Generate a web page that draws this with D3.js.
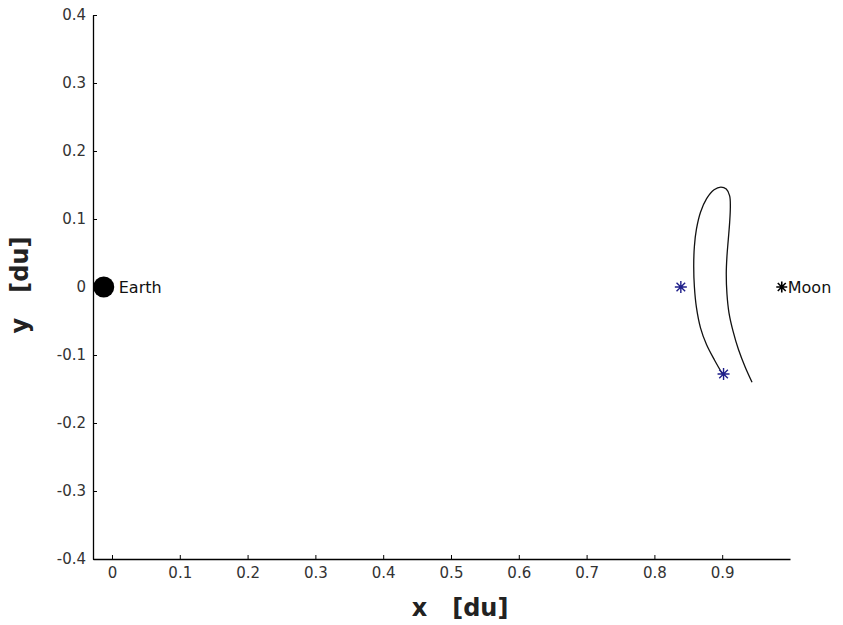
<!DOCTYPE html>
<html>
<head>
<meta charset="utf-8">
<script src="https://cdn.jsdelivr.net/npm/d3@7"></script>
<style>
  body { margin: 0; background: #fff; }
  svg { display: block; }
</style>
</head>
<body>
<div id="chart"></div>
<script>
// 軸刻度
const xTicks = [0, 0.1, 0.2, 0.3, 0.4, 0.5, 0.6, 0.7, 0.8, 0.9];
const yTicks = [-0.4, -0.3, -0.2, -0.1, 0, 0.1, 0.2, 0.3, 0.4];

// 軌道 (x, y) [du]
const orbitX = [0.901, 0.889, 0.877, 0.868, 0.862, 0.859, 0.858, 0.859, 0.862, 0.868, 0.877, 0.888, 0.898, 0.906, 0.911, 0.912, 0.911, 0.909, 0.907, 0.906, 0.907, 0.910, 0.916, 0.924, 0.934, 0.944];
const orbitY = [-0.129, -0.108, -0.085, -0.060, -0.030, 0.000, 0.030, 0.060, 0.085, 0.110, 0.130, 0.143, 0.147, 0.144, 0.134, 0.118, 0.095, 0.070, 0.045, 0.020, -0.010, -0.038, -0.065, -0.092, -0.118, -0.140];

// 特殊點
const bodies = [
  { name: "Earth", x: -0.01215, y: 0 },
  { name: "Moon", x: 0.98785, y: 0 }
];
const blueStars = [
  { x: 0.839, y: 0 },      // L1
  { x: 0.902, y: -0.128 }  // 起點
];

const width = 843, height = 625;
const svg = d3.select("#chart").append("svg")
  .attr("width", width)
  .attr("height", height);

const x = d3.scaleLinear().domain([-0.028, 1.0]).range([93, 790]);
const y = d3.scaleLinear().domain([-0.4, 0.4]).range([559, 15]);

const fmt = d => (Math.abs(d) < 1e-9 ? "0" : d.toFixed(1));

// x 軸
const gx = svg.append("g")
  .attr("transform", `translate(0,${y(-0.4)})`)
  .call(d3.axisBottom(x).tickValues(xTicks).tickFormat(fmt).tickSizeInner(-4).tickSizeOuter(0).tickPadding(8));

// y 軸
const gy = svg.append("g")
  .attr("transform", `translate(${x(-0.028)},0)`)
  .call(d3.axisLeft(y).tickValues(yTicks).tickFormat(fmt).tickSizeInner(-4).tickSizeOuter(0).tickPadding(7));

[gx, gy].forEach(g => {
  g.select(".domain").attr("stroke", "#000").attr("stroke-width", 1.3);
  g.selectAll(".tick line").attr("stroke", "#000");
  g.selectAll(".tick text")
    .attr("font-family", "DejaVu Sans, sans-serif")
    .attr("font-size", 15)
    .attr("fill", "#333");
});

// 軸標籤
svg.append("text")
  .attr("x", 460).attr("y", 616)
  .attr("text-anchor", "middle")
  .attr("font-family", "DejaVu Sans, sans-serif")
  .attr("font-size", 24).attr("font-weight", "bold")
  .attr("fill", "#222")
  .style("white-space", "pre")
  .text("x   [du]");

svg.append("text")
  .attr("transform", `translate(28,${285}) rotate(-90)`)
  .attr("text-anchor", "middle")
  .attr("font-family", "DejaVu Sans, sans-serif")
  .attr("font-size", 24).attr("font-weight", "bold")
  .attr("fill", "#222")
  .style("white-space", "pre")
  .text("y   [du]");

// 軌道線
const pts = orbitX.map((v, i) => [v, orbitY[i]]);
svg.append("path")
  .datum(pts)
  .attr("fill", "none")
  .attr("stroke", "#111")
  .attr("stroke-width", 1.3)
  .attr("d", d3.line().x(d => x(d[0])).y(d => y(d[1])).curve(d3.curveCatmullRom));

// 星號 marker
function starPath(r) {
  const d = r * 0.72;
  return `M${-r},0L${r},0M0,${-r}L0,${r}M${-d},${-d}L${d},${d}M${-d},${d}L${d},${-d}`;
}

svg.selectAll(".bstar")
  .data(blueStars)
  .join("path")
  .attr("class", "bstar")
  .attr("transform", d => `translate(${x(d.x)},${y(d.y)})`)
  .attr("d", starPath(6))
  .attr("stroke", "#1f1f8a")
  .attr("stroke-width", 1.4)
  .attr("fill", "none");

// 地球
const earth = bodies[0];
svg.append("circle")
  .attr("cx", x(earth.x)).attr("cy", y(earth.y))
  .attr("r", 10.5)
  .attr("fill", "#000");
svg.append("text")
  .attr("x", x(earth.x) + 15).attr("y", y(earth.y) + 6)
  .attr("font-family", "DejaVu Sans, sans-serif")
  .attr("font-size", 16)
  .attr("fill", "#111")
  .text(earth.name);

// 月球
const moon = bodies[1];
svg.append("path")
  .attr("transform", `translate(${x(moon.x)},${y(moon.y)})`)
  .attr("d", starPath(5.5))
  .attr("stroke", "#000")
  .attr("stroke-width", 1.6)
  .attr("fill", "none");
svg.append("text")
  .attr("x", x(moon.x) + 6).attr("y", y(moon.y) + 6)
  .attr("font-family", "DejaVu Sans, sans-serif")
  .attr("font-size", 16)
  .attr("fill", "#111")
  .text(moon.name);
</script>
</body>
</html>
